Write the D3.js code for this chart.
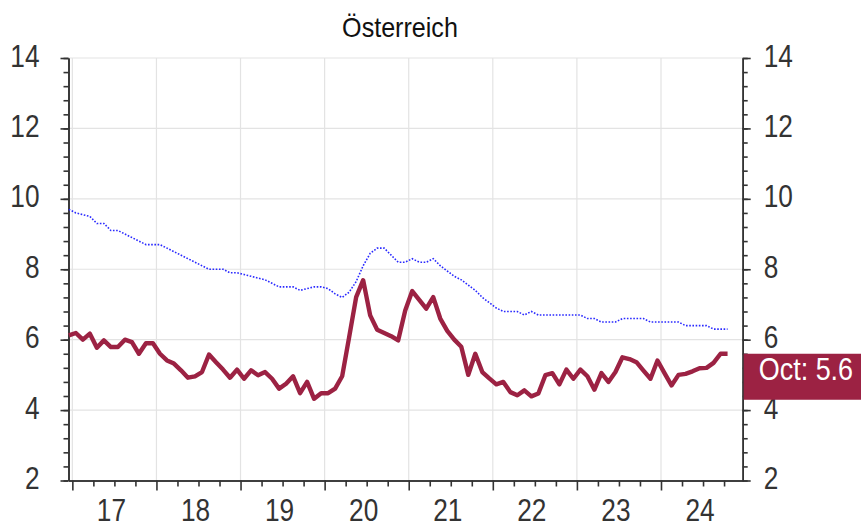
<!DOCTYPE html>
<html><head><meta charset="utf-8">
<script src="https://cdn.jsdelivr.net/npm/d3@7"></script>
<style>
body{margin:0;background:#fff}
svg{display:block}
text{font-family:"Liberation Sans",Arial,sans-serif;fill:#333}
</style>
</head><body><svg id="c" width="861" height="522"></svg>
<script>
const title = "Österreich";
// monthly, Dec 2016 .. Oct 2024 (index 0 = Dec 2016)
const austria = [6.12,
 6.19,6.0,6.17,5.77,5.98,5.79,5.79,6.0,5.93,5.6,5.9,5.9,
 5.6,5.41,5.32,5.13,4.92,4.96,5.08,5.58,5.36,5.15,4.92,5.15,
 4.89,5.13,4.99,5.08,4.89,4.61,4.75,4.96,4.48,4.8,4.32,4.48,
 4.48,4.61,4.96,6.07,7.21,7.69,6.69,6.28,6.19,6.1,5.98,6.83,
 7.38,7.13,6.88,7.21,6.6,6.25,6.0,5.8,5.0,5.6,5.08,4.9,
 4.73,4.8,4.51,4.42,4.56,4.39,4.47,4.99,5.05,4.73,5.15,4.89,
 5.15,4.96,4.58,5.05,4.8,5.08,5.5,5.45,5.36,5.12,4.89,5.41,
 5.05,4.7,5.0,5.03,5.1,5.19,5.2,5.34,5.6,5.6];
const euroArea = [9.7,
 9.6,9.55,9.5,9.3,9.3,9.1,9.1,9.0,8.9,8.8,8.7,8.7,
 8.7,8.6,8.5,8.4,8.3,8.2,8.1,8.0,8.0,8.0,7.9,7.9,
 7.85,7.8,7.75,7.7,7.6,7.5,7.5,7.5,7.4,7.45,7.5,7.5,
 7.45,7.3,7.2,7.35,7.65,8.1,8.45,8.6,8.6,8.4,8.2,8.2,
 8.3,8.2,8.2,8.3,8.1,7.95,7.8,7.7,7.55,7.4,7.2,7.05,
 6.9,6.8,6.8,6.8,6.7,6.8,6.7,6.7,6.7,6.7,6.7,6.7,
 6.7,6.6,6.6,6.5,6.5,6.5,6.6,6.6,6.6,6.6,6.5,6.5,
 6.5,6.5,6.5,6.4,6.4,6.4,6.4,6.3,6.3,6.3];
const yearLabels = ["17","18","19","20","21","22","23","24"];
const yTicks = [2,4,6,8,10,12,14];
const lastLabel = "Oct: 5.6";

const svg = d3.select("#c");
const L = 68.5, R = 742.7, T = 58, B = 480.5;
const NARROW = 0.82;
// x in months since Jan 2017
const x = d3.scaleLinear().domain([-0.55, 95.66]).range([L, R]);
const y = d3.scaleLinear().domain([2, 14]).range([B, T]);
const px = (d, i) => x(i - 0.5);

const grid = svg.append("g").attr("stroke", "#e3e3e3").attr("stroke-width", 1.2);
grid.selectAll(".h").data(yTicks.filter(v => v > 2)).join("line")
  .attr("x1", L).attr("x2", R).attr("y1", d => y(d)).attr("y2", d => y(d));
const yearStarts = yearLabels.map((d, k) => 12 * k);
grid.selectAll(".v").data(yearStarts).join("line")
  .attr("x1", d => x(d)).attr("x2", d => x(d)).attr("y1", T).attr("y2", B);

const minorY = d3.range(2, 14.001, 0.4);
function styleAxis(g){
  g.selectAll("path,line").attr("stroke","#333").attr("stroke-width",1.6);
  g.selectAll("text").attr("fill","#333").style("font-size","32px");
}
function narrow(g){
  g.selectAll("text").each(function(){
    const t = d3.select(this);
    const tx = +t.attr("x") || 0, ty = +t.attr("y") || 0;
    t.attr("x", 0).attr("y", 0).attr("transform", `translate(${tx},${ty}) scale(${NARROW},1)`);
  });
}

// left axis
svg.append("g").attr("transform", `translate(${L},0)`)
  .call(d3.axisLeft(y).tickValues(minorY).tickSize(5).tickSizeOuter(0).tickFormat(""))
  .call(styleAxis);
svg.append("g").attr("transform", `translate(${L},0)`)
  .call(d3.axisLeft(y).tickValues(yTicks).tickSize(8).tickSizeOuter(0).tickPadding(21))
  .call(styleAxis)
  .call(g => g.selectAll("text").attr("dy", "0.25em"))
  .call(narrow);
// right axis
svg.append("g").attr("transform", `translate(${R},0)`)
  .call(d3.axisRight(y).tickValues(minorY).tickSize(5).tickSizeOuter(0).tickFormat(""))
  .call(styleAxis);
svg.append("g").attr("transform", `translate(${R},0)`)
  .call(d3.axisRight(y).tickValues(yTicks).tickSize(8).tickSizeOuter(0).tickPadding(13))
  .call(styleAxis)
  .call(g => g.selectAll("text").attr("dy", "0.25em"))
  .call(narrow);
// bottom axis
const quarters = d3.range(0, 96, 3).filter(m => m % 12 !== 0);
svg.append("g").attr("transform", `translate(0,${B})`)
  .call(d3.axisBottom(x).tickValues(quarters).tickSize(6).tickSizeOuter(0).tickFormat(""))
  .call(styleAxis);
svg.append("g").attr("transform", `translate(0,${B})`)
  .call(d3.axisBottom(x).tickValues(yearStarts).tickSize(10).tickSizeOuter(0).tickFormat(""))
  .call(styleAxis);
svg.append("g").attr("transform", `translate(0,${B})`)
  .call(d3.axisBottom(x).tickValues(yearStarts.map(m => m + 5.5)).tickSize(0).tickSizeOuter(0).tickPadding(18)
    .tickFormat((d, i) => yearLabels[i]))
  .call(styleAxis)
  .call(g => g.select(".domain").remove())
  .call(narrow);

// lines
const line = d3.line().x(px).y(d => y(d));
svg.append("path").datum(euroArea).attr("d", line)
  .attr("fill", "none").attr("stroke", "#2a2aff").attr("stroke-width", 1.6)
  .attr("stroke-dasharray", "1.6 1.6");
svg.append("path").datum(austria).attr("d", line)
  .attr("fill", "none").attr("stroke", "#9c2243").attr("stroke-width", 4.4)
  .attr("stroke-linejoin", "round");

// last value label
const lastV = austria[austria.length - 1];
const ly = y(lastV);
svg.append("rect").attr("x", R + 1).attr("y", ly).attr("width", 861 - R).attr("height", 46).attr("fill", "#9c2243");
svg.append("text").attr("transform", `translate(${R + 16},${ly + 26.5}) scale(0.87,1)`)
  .style("font-size", "31px").style("fill", "#fff").text(lastLabel);

// title
svg.append("text").attr("transform", `translate(400,37) scale(0.93,1)`).attr("text-anchor", "middle")
  .style("font-size", "27px").style("fill", "#111").text(title);
</script>
</body></html>
